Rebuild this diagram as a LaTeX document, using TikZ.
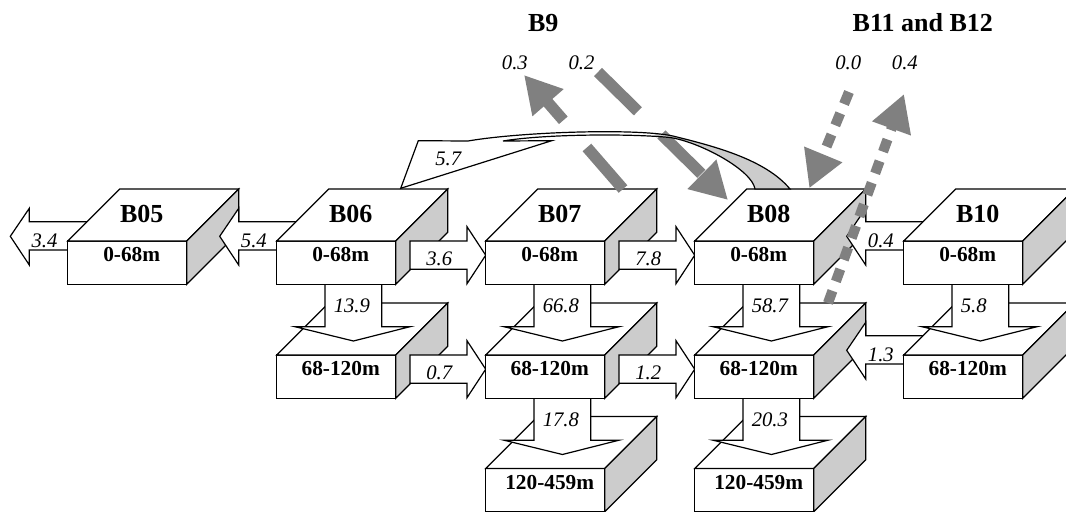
\documentclass[tikz,border=0pt]{standalone}
\usepackage{fontspec}
\setmainfont{Liberation Serif}
\usetikzlibrary{arrows.meta, calc}
\definecolor{sideGray}{RGB}{204,204,204}
\definecolor{flowGray}{RGB}{128,128,128}
\tikzset{
  cube/.style={draw=black, line width=0.9pt, fill=white, line join=miter},
  cubeside/.style={cube, fill=sideGray},
  blockarrow/.style={draw=black, line width=0.9pt, fill=white, line join=miter},
  boxtitle/.style={inner sep=0pt, anchor=base, font=\bfseries\fontsize{19.5}{21}\selectfont},
  boxrange/.style={inner sep=0pt, anchor=base, font=\bfseries\fontsize{16}{18}\selectfont},
  flowval/.style={inner sep=0pt, anchor=base west, font=\itshape\fontsize{15.5}{17}\selectfont},
  grayflow/.style={draw=flowGray, line width=8.6pt, -{Triangle[length=27.5pt,width=29pt]}},
}
% box: front, top and shaded side
\newcommand{\cubebox}[2]{%
  \filldraw[cube] (#1) rectangle ($(#1)+(119,43.3)$);
  \filldraw[cube] (#1) -- ($(#1)+(52,-52)$) -- ($(#1)+(171,-52)$) -- ($(#1)+(119,0)$) -- cycle;
  \filldraw[cubeside] ($(#1)+(119,0)$) -- ($(#1)+(171,-52)$) -- ($(#1)+(171,-8.7)$) -- ($(#1)+(119,43.3)$) -- cycle;
  \node[boxrange] (#1-r) at ($(#1)+(64,20.5)$) {#2};
}
% block arrow to the right
\newcommand{\rflow}[3]{%
  \filldraw[blockarrow] ($(#1)+(133.3,0)$) -- ($(#2)+(-18.7,0)$) -- ($(#2)+(-18.7,-14.3)$)
    -- ($(#2)+(0,14.2)$) -- ($(#2)+(-18.7,42.7)$) -- ($(#2)+(-18.7,28.3)$) -- ($(#1)+(133.3,28.3)$) -- cycle;
  \node[flowval] (#1-#2) at ($(#1)+(149.3,24)$) {#3};
}
% block arrow to the left
\newcommand{\lflow}[3]{%
  \filldraw[blockarrow] ($(#1)+(20,-19.3)$) -- ($(#2)+(171,-19.3)$) -- ($(#2)+(171,-32.7)$)
    -- ($(#2)+(152,-4.7)$) -- ($(#2)+(171,24)$) -- ($(#2)+(171,9)$) -- ($(#1)+(20,9)$) -- cycle;
  \node[flowval] (#1-#2) at ($(#2)+(173,6)$) {#3};
}
% block arrow downwards
\newcommand{\dflow}[3]{%
  \filldraw[blockarrow] ($(#1)+(48.3,43.3)$) -- ($(#2)+(48.3,-28.3)$) -- ($(#2)+(18.3,-28.3)$)
    -- ($(#2)+(76.7,-14)$) -- ($(#2)+(133.3,-28.3)$) -- ($(#2)+(105,-28.3)$) -- ($(#1)+(105,43.3)$) -- cycle;
  \node[flowval] (#1-#2) at ($(#1)+(56.8,71)$) {#3};
}
% curved arrow B08 -> B06
\newcommand{\arcband}{(400.7,188.3) -- (418.3,140.7) -- (468,141)
  .. controls (520,132) and (635,128) .. (673,136)
  .. controls (713,146) and (765,159) .. (790,189) -- (755,189)
  .. controls (752,170) and (700,142) .. (670,137.5)
  .. controls (630,133.5) and (545,134) .. (503,141) -- (551.7,140.7) -- cycle}

\begin{document}
\begin{tikzpicture}[x=0.75pt, y=-0.75pt]
  \useasboundingbox (0,0) rectangle (1066,511);
  \clip (0,0) rectangle (1066,511);
  % box corners (front, top left)
  \foreach \n/\x in {B05/67.7, B06/276.7, B07/485.7, B08/694.7, B10/903.7} {
    \coordinate (\n-1) at (\x,241);
    \coordinate (\n-2) at (\x,355);
    \coordinate (\n-3) at (\x,468.5);
  }
  \coordinate (W) at (-141.7,241);

  % 120-459m
  \cubebox{B07-3}{120-459m}
  \cubebox{B08-3}{120-459m}
  \dflow{B07-2}{B07-3}{17.8}
  \dflow{B08-2}{B08-3}{20.3}

  % 68-120m
  \cubebox{B06-2}{68-120m}
  \rflow{B06-2}{B07-2}{0.7}
  \cubebox{B07-2}{68-120m}
  \rflow{B07-2}{B08-2}{1.2}
  \cubebox{B08-2}{68-120m}
  \lflow{B10-2}{B08-2}{1.3}
  \cubebox{B10-2}{68-120m}
  \dflow{B06-1}{B06-2}{13.9}
  \dflow{B07-1}{B07-2}{66.8}
  \dflow{B08-1}{B08-2}{58.7}
  \dflow{B10-1}{B10-2}{5.8}

  % 0-68m
  \lflow{B05-1}{W}{3.4}
  \cubebox{B05-1}{0-68m}
  \lflow{B06-1}{B05-1}{5.4}
  \cubebox{B06-1}{0-68m}
  \rflow{B06-1}{B07-1}{3.6}
  \cubebox{B07-1}{0-68m}
  \rflow{B07-1}{B08-1}{7.8}
  \cubebox{B08-1}{0-68m}
  \lflow{B10-1}{B08-1}{0.4}
  \cubebox{B10-1}{0-68m}
  \foreach \n in {B05,B06,B07,B08,B10}
    \node[boxtitle] (\n) at ($(\n-1)+(74,-19)$) {\n};

  % exchanges with B9, B11 and B12
  \coordinate (b9out) at (524,75);
  \coordinate (b9in) at (598,72);
  \coordinate (b11in) at (849,92);
  \coordinate (b11out) at (904,94);
  \draw[grayflow, dash pattern=on 41.25pt off 27pt] ($(B07-1)+(137.3,-52)$) -- (b9out);
  \draw[grayflow, dash pattern=on 42pt off 24.75pt] (b9in) -- ($(B08-1)+(33.3,-41)$);
  \draw[grayflow, line width=7.6pt, dash pattern=on 9.75pt off 7.5pt] (b11in) -- ($(B08-1)+(114.6,-52.7)$);
  \draw[grayflow, line width=7.6pt, dash pattern=on 9.75pt off 7.5pt] ($(B08-1)+(133.3,62)$) -- (b11out);

  % B08 -> B06
  \fill[white] \arcband;
  \begin{scope}
    \clip (655,100) rectangle (800,200);
    \fill[sideGray] \arcband;
  \end{scope}
  \draw[line width=0.9pt, line join=miter] \arcband;
  \node[flowval] (v57) at (435,165) {5.7};

  % labels at the top
  \node[boxtitle] (B9) at (543.3,31.7) {B9};
  \node[flowval] (v03) at (501.7,69) {0.3};
  \node[flowval] (v02) at (568.3,69) {0.2};
  \node[boxtitle] (B1112) at (922.8,31.7) {B11 and B12};
  \node[flowval] (v00) at (835,69) {0.0};
  \node[flowval] (v04) at (891.7,69) {0.4};
\end{tikzpicture}
\end{document}
